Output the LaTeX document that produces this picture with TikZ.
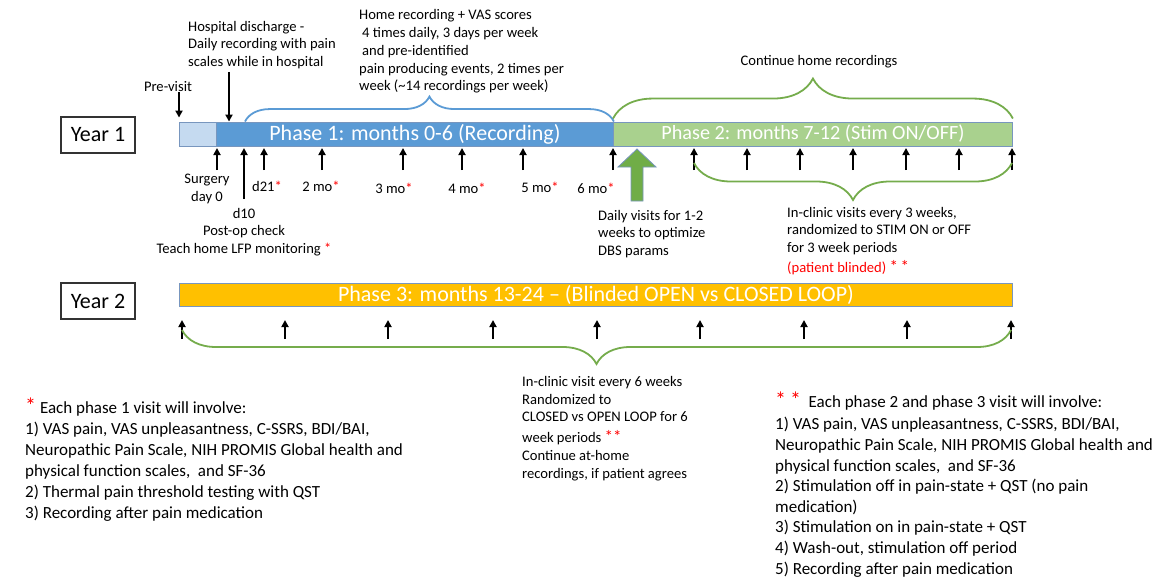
\documentclass[tikz,border=0pt]{standalone}
\usepackage{fontspec}
\setmainfont{Carlito}
\usetikzlibrary{arrows.meta,positioning,calc,decorations.pathreplacing}
\definecolor{recblue}{RGB}{91,155,213}
\definecolor{preblue}{RGB}{197,218,240}
\definecolor{stimgreen}{RGB}{169,209,142}
\definecolor{loopgold}{RGB}{255,192,0}
\definecolor{bracegreen}{RGB}{117,172,76}
\definecolor{edgeblue}{RGB}{120,150,190}
\definecolor{arrowgreen}{RGB}{112,173,71}
\definecolor{starred}{RGB}{255,0,0}
\newcommand{\redmark}[1]{\textcolor{starred}{#1}}
\newcommand{\bigredmark}{{\fontsize{22}{22}\selectfont\textcolor{starred}{*}}}
\newcommand{\midredmark}{{\fontsize{17}{17}\selectfont\textcolor{starred}{*}}}
\tikzset{
  yearbox/.style={draw=black!80, line width=1.2pt, minimum width=74pt, minimum height=36pt,
                  inner sep=0pt, font=\fontsize{22}{26}\selectfont},
  phasebar/.style={draw=edgeblue, line width=0.9pt, minimum height=24pt, inner sep=0pt,
                   anchor=west, text=white, font=\fontsize{22}{26}\selectfont},
  visit/.style={-{Triangle[length=7pt,width=7pt]}, line width=1.8pt},
  note/.style={inner sep=0pt, align=left, font=\fontsize{14.6}{17.5}\selectfont},
  footnote/.style={inner sep=0pt, align=left, font=\fontsize{17}{21}\selectfont},
  curly/.style={decorate, decoration={brace, amplitude=#1}, line width=1.8pt},
}

\begin{document}
\begin{tikzpicture}[x=1pt, y=-1pt]
  \useasboundingbox (0,0) rectangle (1176,578);
  % year labels
  \node[yearbox] (year1) at (98,135) {Year 1};
  \node[yearbox] (year2) at (98,301) {Year 2};

  % timeline bars
  \node[phasebar, fill=preblue, minimum width=37pt] (pre) at (179,134) {};
  \node[phasebar, fill=recblue, minimum width=397pt] (ph1) at (216,134) {Phase 1: months 0-6 (Recording)};
  \node[phasebar, fill=stimgreen, minimum width=399pt, font=\fontsize{20.2}{24}\selectfont] (ph2) at (613,134)
    {Phase 2: months 7-12 (Stim ON/OFF)};
  \node[phasebar, fill=loopgold, minimum width=833pt, minimum height=23pt] (ph3) at (179,294.5)
    {Phase 3: months 13-24 -- (Blinded OPEN vs CLOSED LOOP)};

  % visits in year 1
  \foreach \x [count=\i] in {217,244,264,322,403,462,523,613,694,747,800,853,906,959,1012}
    \coordinate (v\i) at (\x,148);
  \foreach \i in {1,3,4,...,15}
    \draw[visit] ([yshift=-22pt]v\i) -- (v\i);
  \draw[visit] ([yshift=-51pt]v2) -- (v2);

  % visits in year 2
  \foreach \x [count=\i] in {182,285,388,493,597,700,804,907,1011}
    \coordinate (w\i) at (\x,320);
  \foreach \i in {1,...,9}
    \draw[visit] ([yshift=-19pt]w\i) -- (w\i);

  % labels under the year 1 visits
  \node[note, align=center] (surgery) at (207,189) {Surgery\\day 0};
  \node[note, align=center, anchor=north] (postop) at (244,208)
    {d10\\Post-op check\\Teach home LFP monitoring \redmark{*}};
  \node[note] (d21) at (267,186) {d21\redmark{*}};
  \node[note] (mo2) at (321,186) {2 mo\redmark{*}};
  \node[note] (mo3) at (394,188) {3 mo\redmark{*}};
  \node[note] (mo4) at (467,188) {4 mo\redmark{*}};
  \node[note] (mo5) at (540,187) {5 mo\redmark{*}};
  \node[note] (mo6) at (596,188) {6 mo\redmark{*}};

  % above the year 1 bar
  \node[note] (previsit) at (168,87) {Pre-visit};
  \draw[visit] (previsit.south -| pre.west) -- ([yshift=4pt]pre.north west);
  \node[note, anchor=north west] (discharge) at (188,21)
    {Hospital discharge -\\Daily recording with pain\\scales while in hospital};
  \coordinate (dcg) at ([xshift=41pt]discharge.south west);
  \draw[visit] ([yshift=-3pt]dcg) -- (dcg |- ph1.north);
  \node[note, anchor=north west, font=\fontsize{14.6}{17.9}\selectfont] (homerec) at (359,9)
    {Home recording + VAS scores\\\hspace*{3pt}4 times daily, 3 days per week\\\hspace*{3pt}and pre-identified\\pain producing events, 2 times per\\week (\textasciitilde14 recordings per week)};
  \draw[curly=25, recblue] ([xshift=29pt]ph1.north west) -- (ph1.north east);
  \node[note] (conthome) at (819,62) {Continue home recordings};
  \draw[curly=40, bracegreen] ([yshift=3pt]ph2.north west) -- ([yshift=3pt]ph2.north east);

  % phase 2 details
  \filldraw[fill=arrowgreen, draw=edgeblue, line width=0.8pt]
    (631,201) -- (631,167) -- (618,167) -- (637,149) -- (656,167) -- (643,167) -- (643,201) -- cycle;
  \node[note, anchor=north west] (optimize) at (598,210) {Daily visits for 1-2\\weeks to optimize\\DBS params};
  \draw[curly=37, bracegreen] ([yshift=-15pt]v15) -- ([yshift=-15pt]v9);
  \node[note, anchor=north west] (stimonoff) at (787,207)
    {In-clinic visits every 3 weeks,\\randomized to STIM ON or OFF\\for 3 week periods\\[3pt]\redmark{(patient blinded)} \midredmark\,\midredmark};

  % phase 3 details
  \draw[curly=34, bracegreen] ([yshift=-10pt]w9) -- ([yshift=-10pt]w1);
  \node[note, anchor=north west, font=\fontsize{14.6}{17.8}\selectfont] (openclosed) at (522,376)
    {In-clinic visit every 6 weeks\\Randomized to\\CLOSED vs OPEN LOOP for 6\\[3pt]week periods \midredmark\midredmark\\Continue at-home\\recordings, if patient agrees};

  % footnotes
  \node[footnote, anchor=north west] (p1list) at (25,398)
    {\bigredmark\ Each phase 1 visit will involve:\\1) VAS pain, VAS unpleasantness, C-SSRS, BDI/BAI,\\Neuropathic Pain Scale, NIH PROMIS Global health and\\physical function scales, \ and SF-36\\2) Thermal pain threshold testing with QST\\3) Recording after pain medication};
  \node[footnote, anchor=north west, font=\fontsize{17}{20.6}\selectfont] (p23list) at (775,392)
    {\bigredmark\ \bigredmark\ \ Each phase 2 and phase 3 visit will involve:\\[1.4pt]1) VAS pain, VAS unpleasantness, C-SSRS, BDI/BAI,\\Neuropathic Pain Scale, NIH PROMIS Global health and\\physical function scales, \ and SF-36\\2) Stimulation off in pain-state + QST (no pain\\medication)\\3) Stimulation on in pain-state + QST\\4) Wash-out, stimulation off period\\5) Recording after pain medication};
\end{tikzpicture}
\end{document}
